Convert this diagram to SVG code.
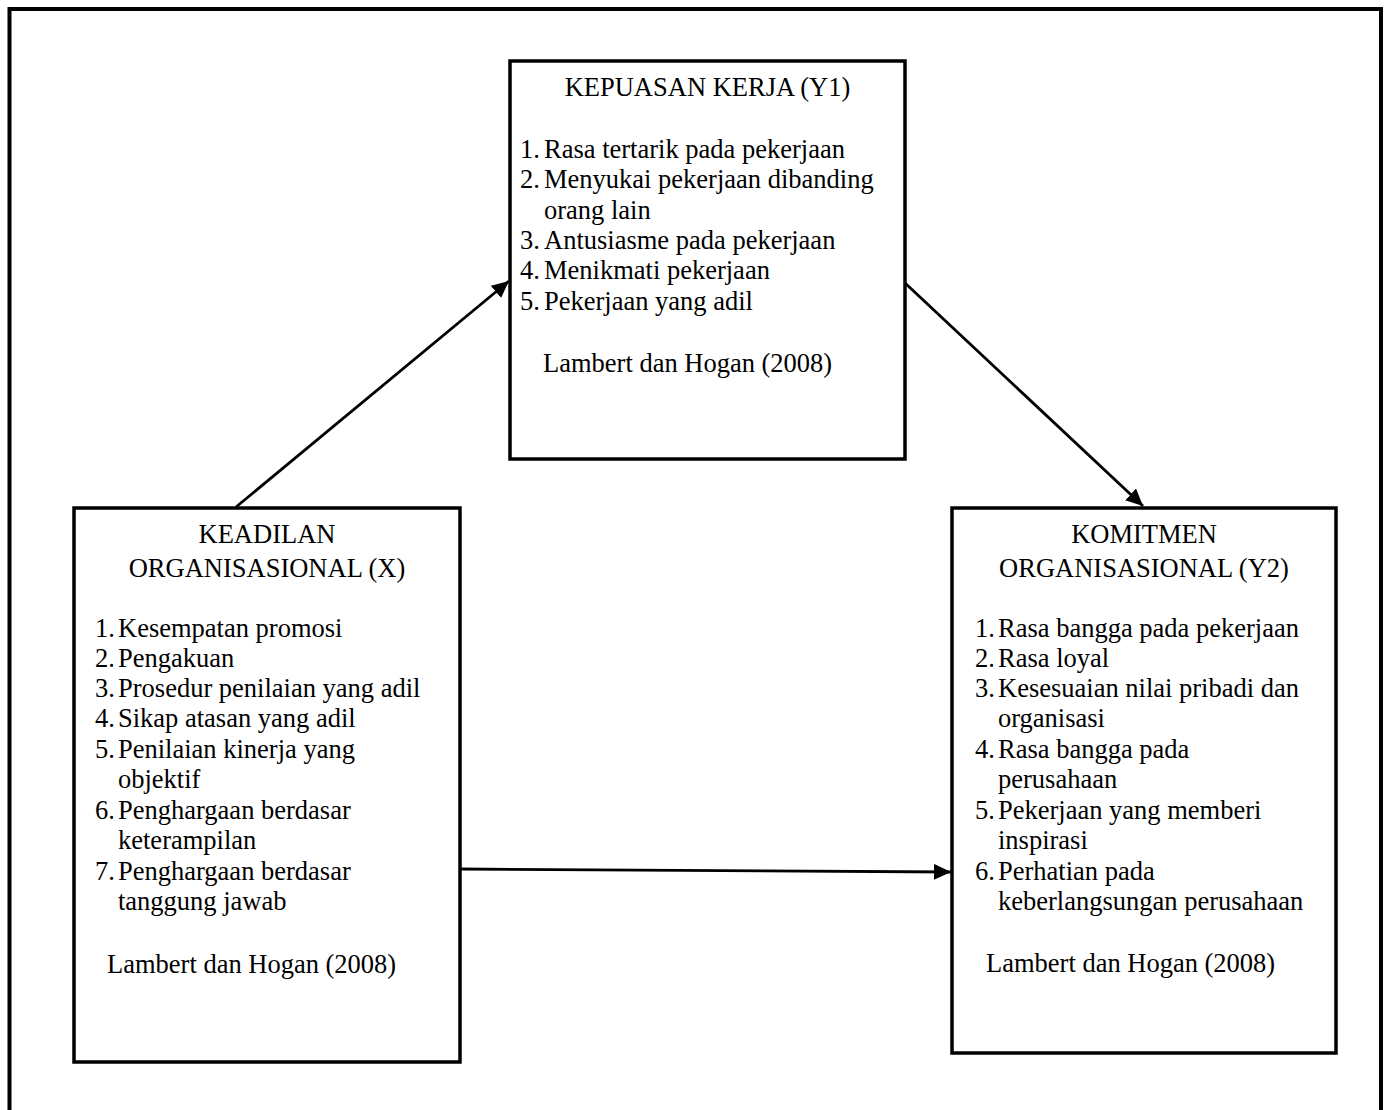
<svg xmlns="http://www.w3.org/2000/svg" width="1388" height="1110" viewBox="0 0 1388 1110">
<style>
.box{fill:#fff;stroke:#000;stroke-width:3.5}
.frame{fill:none;stroke:#000;stroke-width:4}
.t{font-family:"Liberation Serif","Times New Roman",serif;font-size:26.5px;fill:#000}
.c{text-anchor:middle}
.conn{stroke:#000;stroke-width:2.8;fill:none;marker-end:url(#ah)}
</style>
<defs>
<marker id="ah" markerUnits="userSpaceOnUse" markerWidth="18" markerHeight="16" refX="17" refY="8" orient="auto">
<path d="M0,0 L17,8 L0,16 Z" fill="#000"/>
</marker>
</defs>
<rect width="1388" height="1110" fill="#fff"/>
<path class="frame" d="M9.5,1120 V9 H1381 V1120"/>

<g id="connectors">
<line class="conn" x1="236" y1="507" x2="509" y2="281"/>
<line class="conn" x1="905" y1="283" x2="1143" y2="506"/>
<line class="conn" x1="460" y1="869" x2="951" y2="872"/>
</g>

<g id="node-y1">
<rect class="box" x="510" y="61" width="395" height="398"/>
<text class="t c" x="707.5" y="96">KEPUASAN KERJA (Y1)</text>
<text class="t" x="520" y="158">1.</text><text class="t" x="544" y="158">Rasa tertarik pada pekerjaan</text>
<text class="t" x="520" y="188.3">2.</text><text class="t" x="544" y="188.3">Menyukai pekerjaan dibanding</text>
<text class="t" x="544" y="218.6">orang lain</text>
<text class="t" x="520" y="248.9">3.</text><text class="t" x="544" y="248.9">Antusiasme pada pekerjaan</text>
<text class="t" x="520" y="279.2">4.</text><text class="t" x="544" y="279.2">Menikmati pekerjaan</text>
<text class="t" x="520" y="309.5">5.</text><text class="t" x="544" y="309.5">Pekerjaan yang adil</text>
<text class="t" x="543" y="372">Lambert dan Hogan (2008)</text>
</g>

<g id="node-x">
<rect class="box" x="74" y="508" width="386" height="554"/>
<text class="t c" x="267" y="543">KEADILAN</text>
<text class="t c" x="267" y="577">ORGANISASIONAL (X)</text>
<text class="t" x="95" y="637">1.</text><text class="t" x="118" y="637">Kesempatan promosi</text>
<text class="t" x="95" y="667">2.</text><text class="t" x="118" y="667">Pengakuan</text>
<text class="t" x="95" y="697">3.</text><text class="t" x="118" y="697">Prosedur penilaian yang adil</text>
<text class="t" x="95" y="727">4.</text><text class="t" x="118" y="727">Sikap atasan yang adil</text>
<text class="t" x="95" y="757.5">5.</text><text class="t" x="118" y="757.5">Penilaian kinerja yang</text>
<text class="t" x="118" y="788">objektif</text>
<text class="t" x="95" y="818.5">6.</text><text class="t" x="118" y="818.5">Penghargaan berdasar</text>
<text class="t" x="118" y="849">keterampilan</text>
<text class="t" x="95" y="879.5">7.</text><text class="t" x="118" y="879.5">Penghargaan berdasar</text>
<text class="t" x="118" y="910">tanggung jawab</text>
<text class="t" x="107" y="973">Lambert dan Hogan (2008)</text>
</g>

<g id="node-y2">
<rect class="box" x="952" y="508" width="384" height="545"/>
<text class="t c" x="1144" y="543">KOMITMEN</text>
<text class="t c" x="1144" y="577">ORGANISASIONAL (Y2)</text>
<text class="t" x="975" y="637">1.</text><text class="t" x="998" y="637">Rasa bangga pada pekerjaan</text>
<text class="t" x="975" y="667">2.</text><text class="t" x="998" y="667">Rasa loyal</text>
<text class="t" x="975" y="697">3.</text><text class="t" x="998" y="697">Kesesuaian nilai pribadi dan</text>
<text class="t" x="998" y="727">organisasi</text>
<text class="t" x="975" y="757.5">4.</text><text class="t" x="998" y="757.5">Rasa bangga pada</text>
<text class="t" x="998" y="788">perusahaan</text>
<text class="t" x="975" y="818.5">5.</text><text class="t" x="998" y="818.5">Pekerjaan yang memberi</text>
<text class="t" x="998" y="849">inspirasi</text>
<text class="t" x="975" y="879.5">6.</text><text class="t" x="998" y="879.5">Perhatian pada</text>
<text class="t" x="998" y="910">keberlangsungan perusahaan</text>
<text class="t" x="986" y="972">Lambert dan Hogan (2008)</text>
</g>
</svg>
